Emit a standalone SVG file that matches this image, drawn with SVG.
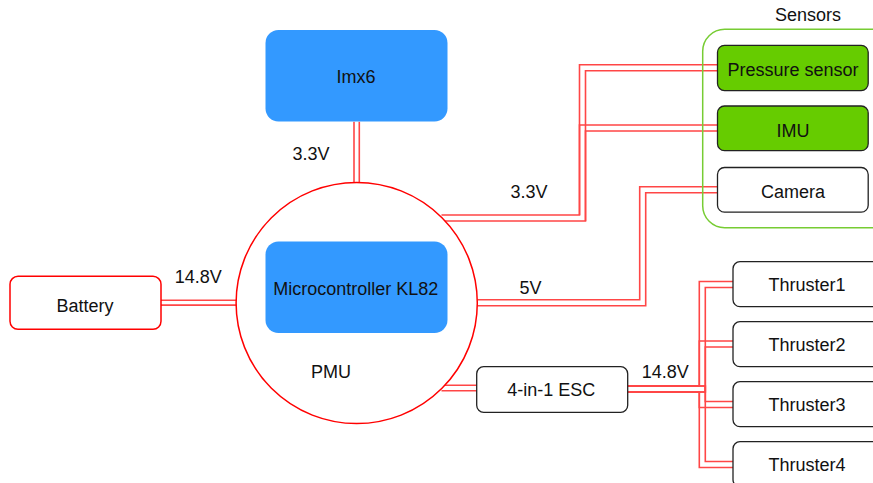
<svg xmlns="http://www.w3.org/2000/svg" width="873" height="483" viewBox="0 0 873 483">
<style>
text{font-family:"Liberation Sans",Arial,sans-serif;font-size:18px;fill:#111;text-anchor:middle}
.w{fill:none;stroke:#ff4646;stroke-width:1.6}
.blue{fill:#3399ff;stroke:none}
.green{fill:#66cc00;stroke:#222;stroke-width:1.3}
.plain{fill:#fff;stroke:#222;stroke-width:1.3}
</style>
<rect width="873" height="483" fill="#fff"/>
<g id="connectors">
<path class="w" d="M161,300.3H237M161,305.1H237"/>
<path class="w" d="M354,121.7V183.5M359.3,121.7V183.5"/>
<path class="w" d="M441.5,385.2H477M441.5,390.8H477"/>
<path class="w" d="M718,64.7H579.5V215H441.5M718,70.7H585.5V221H442.5"/>
<path class="w" d="M718,125H579.5V215M718,131H585.5V221"/>
<path class="w" d="M718,186.7H639.7V299.8H477.3M718,192.7H645.7V305.8H477.3"/>
<path class="w" d="M628,386H699.3V281.5H733M628,392H705.3V287.5H733"/>
<path class="w" d="M628,386H699.3V341H733M628,392H705.3V347H733"/>
<path class="w" d="M628,386H705.3V401.5H733M628,392H699.3V407.5H733"/>
<path class="w" d="M628,386H705.3V461.5H733M628,392H699.3V467.5H733"/>
<text x="311" y="160">3.3V</text>
<text x="529" y="197.5">3.3V</text>
<text x="530.5" y="294">5V</text>
<text x="198.3" y="282.5">14.8V</text>
<text x="665.3" y="378">14.8V</text>
</g>
<g id="imx6">
<rect class="blue" x="265.5" y="30" width="182" height="91.5" rx="13"/>
<text x="356" y="83.3">Imx6</text>
</g>
<g id="pmu">
<circle cx="356.7" cy="303" r="120.6" fill="#fff" stroke="#ff0000" stroke-width="1.5"/>
<text x="331" y="378.3">PMU</text>
</g>
<g id="kl82">
<rect class="blue" x="265.5" y="241.5" width="182" height="91.5" rx="13"/>
<text x="355.8" y="295">Microcontroller KL82</text>
</g>
<g id="battery">
<rect x="10" y="276.3" width="151" height="53" rx="8" fill="#fff" stroke="#ff0000" stroke-width="1.5"/>
<text x="85" y="311.5">Battery</text>
</g>
<g id="sensors">
<rect x="702.7" y="29.3" width="200" height="198.4" rx="22" fill="none" stroke="#77cc33" stroke-width="1.5"/>
<text x="808" y="20.5">Sensors</text>
</g>
<g id="pressure">
<rect class="green" x="717.5" y="45.3" width="150.7" height="45.3" rx="7"/>
<text x="793" y="76">Pressure sensor</text>
</g>
<g id="imu">
<rect class="green" x="717.5" y="106" width="150.7" height="44.7" rx="7"/>
<text x="793" y="136.7">IMU</text>
</g>
<g id="camera">
<rect class="plain" x="717.5" y="167.5" width="150.7" height="44.7" rx="7"/>
<text x="793" y="198.3">Camera</text>
</g>
<g id="esc">
<rect class="plain" x="476.7" y="366.7" width="151" height="45.6" rx="7"/>
<text x="551.2" y="396">4-in-1 ESC</text>
</g>
<g id="thruster1">
<rect class="plain" x="733" y="261.7" width="148" height="45" rx="7"/>
<text x="807" y="291">Thruster1</text>
</g>
<g id="thruster2">
<rect class="plain" x="733" y="321.7" width="148" height="45" rx="7"/>
<text x="807" y="351">Thruster2</text>
</g>
<g id="thruster3">
<rect class="plain" x="733" y="381.7" width="148" height="45" rx="7"/>
<text x="807" y="411">Thruster3</text>
</g>
<g id="thruster4">
<rect class="plain" x="733" y="441.7" width="148" height="45" rx="7"/>
<text x="807" y="471">Thruster4</text>
</g>
</svg>
